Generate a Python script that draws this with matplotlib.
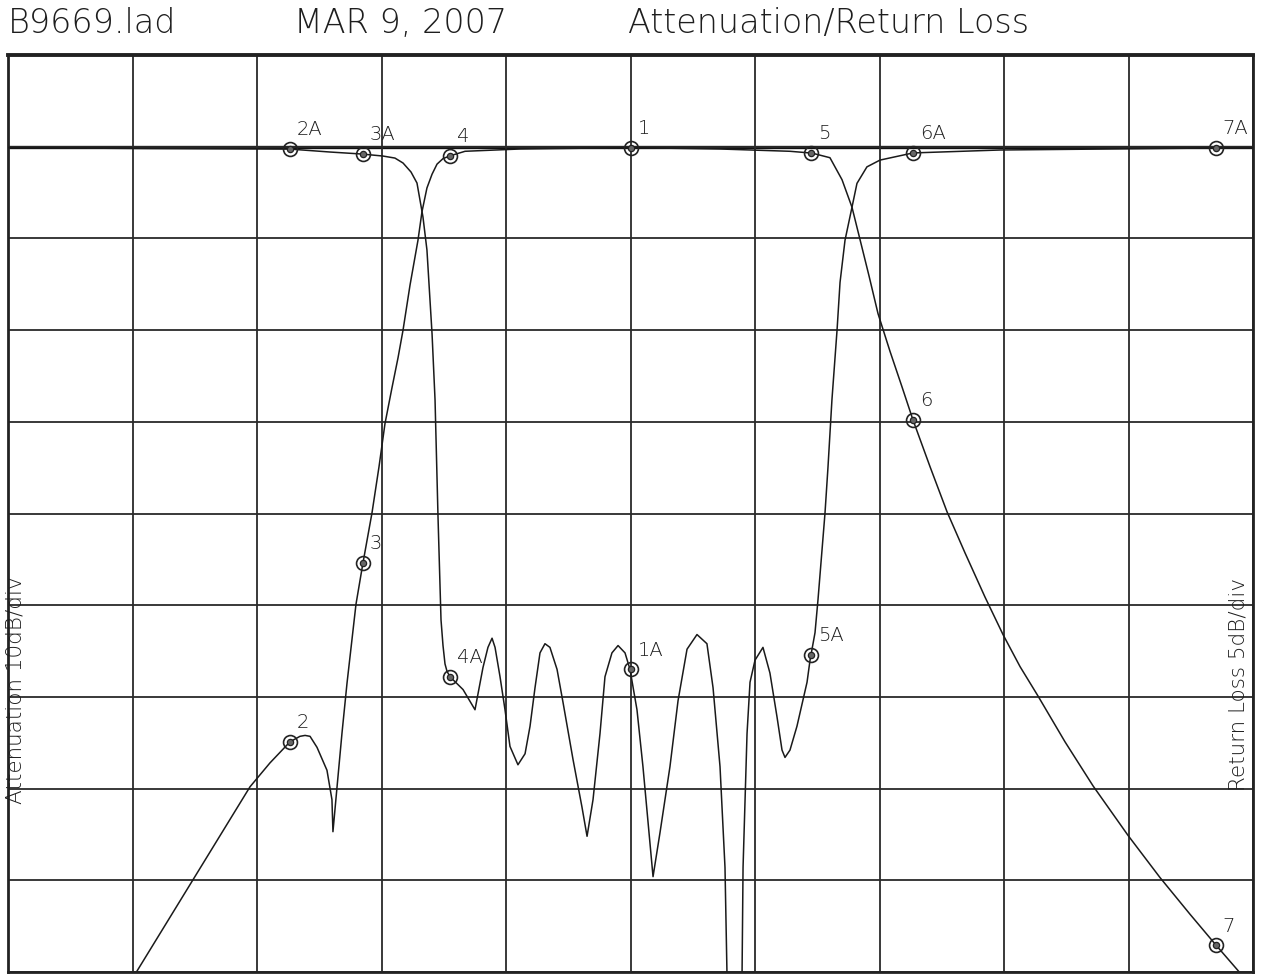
import numpy as np
import matplotlib
matplotlib.use('Agg')
import matplotlib.pyplot as plt

# ---------------- data (frequency in grid divisions, 0..10; no scale printed) -------------
att_freq = [0.940, 1.036, 1.944, 2.104, 2.265, 2.345, 2.386, 2.426, 2.482, 2.562, 2.602,
            2.610, 2.643, 2.683, 2.723, 2.795, 2.851, 2.924, 2.980, 3.028, 3.084, 3.133,
            3.173, 3.229, 3.293, 3.325, 3.365, 3.406, 3.446, 3.494, 3.550, 3.671, 4.112,
            5.004, 5.719, 6.281, 6.458, 6.602, 6.699, 6.779, 6.843, 6.916, 6.988, 7.084,
            7.181, 7.269, 7.406, 7.542, 7.687, 7.847, 7.992, 8.129, 8.273, 8.490, 8.715,
            8.996, 9.253, 9.494, 9.711, 9.896, 10.0]
att_db = [92.0, 89.9, 69.8, 67.2, 64.9, 64.3, 64.2, 64.3, 65.5, 68.0, 71.2,
          74.7, 69.8, 63.9, 58.5, 49.9, 45.4, 39.9, 34.9, 30.2, 26.3, 23.0,
          20.0, 15.1, 10.2, 7.1, 4.5, 3.0, 1.9, 1.3, 1.0, 0.5, 0.25,
          0.1, 0.25, 0.5, 0.7, 1.2, 3.6, 6.6, 10.1, 14.1, 18.2, 22.3,
          26.2, 29.8, 34.9, 39.8, 44.3, 49.1, 53.2, 56.7, 59.9, 64.9, 69.7,
          75.1, 79.7, 83.7, 87.2, 90.1, 91.7]

rl_freq = [0.0, 1.14, 2.265, 2.586, 2.843, 3.012, 3.108, 3.173, 3.237, 3.285, 3.333,
           3.365, 3.406, 3.430, 3.454, 3.478, 3.494, 3.510, 3.526, 3.550, 3.655, 3.751,
           3.815, 3.855, 3.888, 3.912, 3.952, 3.992, 4.032, 4.096, 4.153, 4.193, 4.233,
           4.273, 4.313, 4.353, 4.410, 4.458, 4.538, 4.610, 4.651, 4.699, 4.755, 4.795,
           4.851, 4.900, 4.956, 4.996, 5.052, 5.100, 5.181, 5.237, 5.317, 5.382, 5.454,
           5.534, 5.614, 5.663, 5.719, 5.759, 5.775, 5.839, 5.896, 5.904, 5.936, 5.960,
           6.000, 6.064, 6.120, 6.177, 6.217, 6.241, 6.281, 6.337, 6.418, 6.442, 6.482,
           6.506, 6.562, 6.586, 6.618, 6.659, 6.683, 6.723, 6.779, 6.819, 6.899, 7.004,
           7.269, 7.968, 9.687, 10.0]
rl_db = [0.05, 0.10, 0.13, 0.29, 0.40, 0.51, 0.62, 0.89, 1.38, 1.98, 3.83,
         5.63, 10.2, 13.8, 20.2, 25.8, 27.2, 28.2, 28.6, 28.9, 29.6, 30.7,
         28.4, 27.3, 26.8, 27.3, 28.9, 30.7, 32.7, 33.7, 33.1, 31.6, 29.5,
         27.6, 27.1, 27.3, 28.5, 30.3, 33.4, 36.0, 37.6, 35.6, 32.0, 28.9,
         27.6, 27.2, 27.6, 28.5, 30.7, 33.8, 39.8, 37.4, 33.8, 30.2, 27.4,
         26.6, 27.1, 29.5, 33.8, 39.3, 45.1, 60.0, 45.1, 39.3, 32.0, 29.2,
         28.0, 27.3, 28.7, 31.1, 32.9, 33.3, 32.9, 31.6, 29.2, 28.0, 26.5,
         24.7, 20.0, 17.5, 13.8, 10.0, 7.4, 5.1, 3.3, 2.0, 1.1, 0.73,
         0.34, 0.18, 0.07, 0.07]

att_marker_names = ['1', '2', '3', '4', '5', '6', '7']
rl_marker_names = ['1A', '2A', '3A', '4A', '5A', '6A', '7A']
marker_freq = [5.00, 2.265, 2.85, 3.55, 6.45, 7.27, 9.70]
marker_att = [0.1, 64.9, 45.4, 1.0, 0.7, 29.8, 87.1]
marker_rl = [28.5, 0.13, 0.40, 28.9, 27.7, 0.34, 0.07]

header_texts = ['B9669.lad', 'MAR 9, 2007', 'Attenuation/Return Loss']
left_label = 'Attenuation 10dB/div'
right_label = 'Return Loss 5dB/div'

# ---------------- figure ---------------------------------------------------------------
W, H = 1261, 977
fig = plt.figure(figsize=(W / 100, H / 100), dpi=100)
fig.patch.set_facecolor('white')

ax = fig.add_axes([8 / W, 1 - 972 / H, 1245 / W, 917 / H])
ax.set_xlim(0, 10)
ax.set_ylim(90, -10)
ax.set_xticks(np.arange(0, 11, 1))
ax.set_yticks(np.arange(-10, 91, 10))
ax.tick_params(length=0, labelleft=False, labelbottom=False)
ax.grid(True, color='#2a2a2a', linewidth=1.3)
ax.axhline(0, color='#111111', linewidth=2.4, zorder=1)
for s in ax.spines.values():
    s.set_linewidth(2.0)
    s.set_color('#222222')
ax.spines['top'].set_linewidth(2.8)

ax2 = ax.twinx()
ax2.set_ylim(45, -5)
ax2.set_yticks([])
ax2.tick_params(length=0, labelright=False)
for s in ax2.spines.values():
    s.set_visible(False)

line_kw = dict(color='#1a1a1a', linewidth=1.1)
ax.plot(att_freq, att_db, **line_kw)
ax2.plot(rl_freq, rl_db, **line_kw)

mk_outer = dict(marker='o', ms=10, mfc='none', mec='#222222', mew=1.2, ls='none')
mk_inner = dict(marker='o', ms=4.5, mfc='#666666', mec='#222222', mew=0.9, ls='none')
ax.plot(marker_freq, marker_att, **mk_outer)
ax.plot(marker_freq, marker_att, **mk_inner)
ax2.plot(marker_freq, marker_rl, **mk_outer)
ax2.plot(marker_freq, marker_rl, **mk_inner)

txt_col = '#1e1e1e'
lab_kw = dict(textcoords='offset points', xytext=(5, 7), ha='left', va='bottom',
              fontsize=14, color=txt_col, fontweight='light')
for n, f, v in zip(att_marker_names, marker_freq, marker_att):
    ax.annotate(n, (f, v), **lab_kw)
for n, f, v in zip(rl_marker_names, marker_freq, marker_rl):
    ax2.annotate(n, (f, v), **lab_kw)

# header line
hx = [8, 294, 628]
for t, x in zip(header_texts, hx):
    fig.text(x / W, 1 - 33 / H, t, fontsize=24, color=txt_col, ha='left',
             va='baseline', fontweight='light')

fig.text(15.5 / W, 1 - 690 / H, left_label, rotation=90, fontsize=15.5, color=txt_col,
         ha='center', va='center', fontweight='light')
fig.text(1239 / W, 1 - 684 / H, right_label, rotation=90, fontsize=15.5, color=txt_col,
         ha='center', va='center', fontweight='light')

fig.savefig('out.png', dpi=100, facecolor='white')
